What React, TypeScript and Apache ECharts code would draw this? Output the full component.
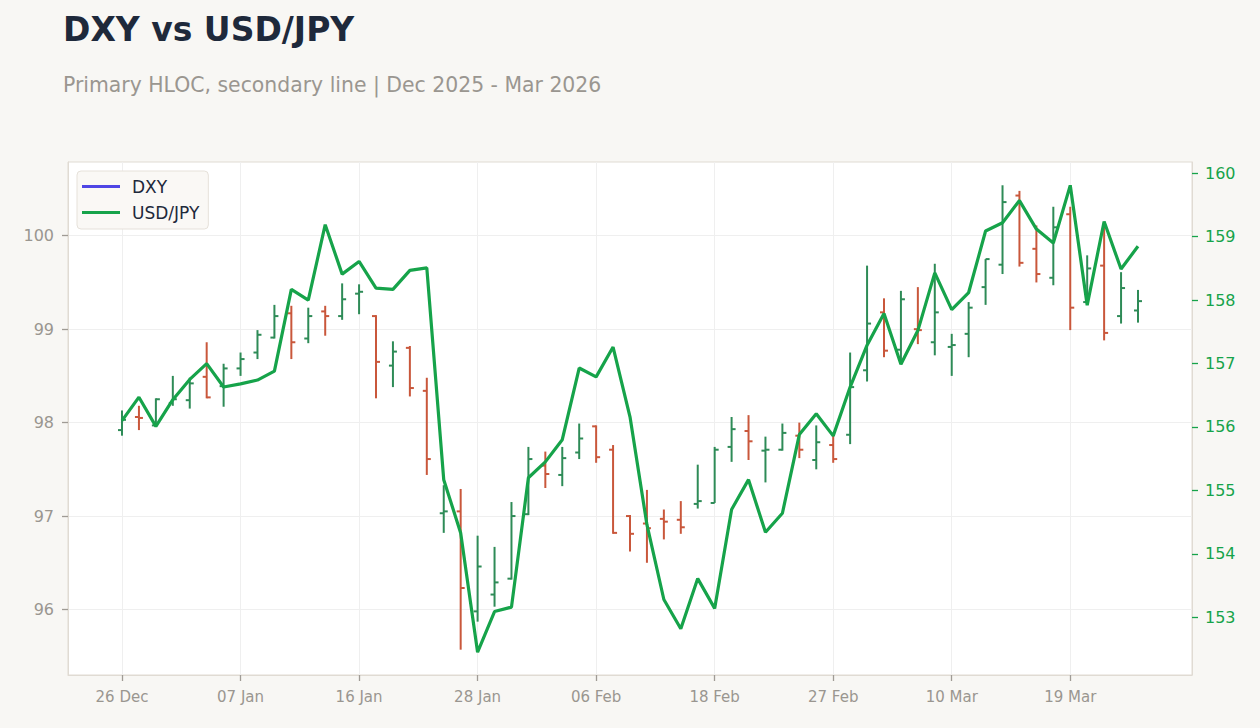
import React, { useEffect, useRef } from "react";
import * as echarts from "echarts";

const dates = [
  "2025-12-26", "2025-12-29", "2025-12-30", "2025-12-31", "2026-01-02",
  "2026-01-05", "2026-01-06", "2026-01-07", "2026-01-08", "2026-01-09",
  "2026-01-12", "2026-01-13", "2026-01-14", "2026-01-15", "2026-01-16",
  "2026-01-20", "2026-01-21", "2026-01-22", "2026-01-23", "2026-01-26",
  "2026-01-27", "2026-01-28", "2026-01-29", "2026-01-30", "2026-02-02",
  "2026-02-03", "2026-02-04", "2026-02-05", "2026-02-06", "2026-02-09",
  "2026-02-10", "2026-02-11", "2026-02-12", "2026-02-13", "2026-02-17",
  "2026-02-18", "2026-02-19", "2026-02-20", "2026-02-23", "2026-02-24",
  "2026-02-25", "2026-02-26", "2026-02-27", "2026-03-02", "2026-03-03",
  "2026-03-04", "2026-03-05", "2026-03-06", "2026-03-09", "2026-03-10",
  "2026-03-11", "2026-03-12", "2026-03-13", "2026-03-16", "2026-03-17",
  "2026-03-18", "2026-03-19", "2026-03-20", "2026-03-23", "2026-03-24",
  "2026-03-25",
];

const dxyOpen = [
  97.92, 98.06, 97.97, 98.21, 98.24, 98.49, 98.39, 98.58, 98.75, 98.91,
  99.17, 98.90, 99.19, 99.14, 99.38, 99.14, 98.61, 98.80, 98.34, 97.03,
  97.05, 95.98, 96.16, 96.33, 97.02, 97.54, 97.44, 97.68, 97.96, 97.71,
  97.00, 96.92, 96.97, 96.96, 97.13, 97.14, 97.74, 97.91, 97.70, 97.71,
  97.86, 97.60, 97.76, 97.87, 98.56, 99.18, 98.78, 99.00, 98.86, 98.81,
  98.95, 99.45, 99.69, 100.43, 99.86, 99.55, 100.23, 99.29, 99.68, 99.14,
  99.20,
];
const dxyHigh = [
  98.13, 98.18, 98.26, 98.50, 98.48, 98.86, 98.63, 98.75, 98.99, 99.26,
  99.25, 99.23, 99.25, 99.49, 99.48, 99.15, 98.87, 98.82, 98.48, 97.33,
  97.29, 96.79, 96.67, 97.15, 97.74, 97.69, 97.74, 97.99, 97.97, 97.76,
  97.01, 97.28, 97.07, 97.16, 97.55, 97.74, 98.06, 98.08, 97.85, 97.99,
  98.00, 97.97, 97.87, 98.75, 99.68, 99.33, 99.41, 99.45, 99.70, 98.95,
  99.29, 99.75, 100.54, 100.48, 100.11, 100.31, 100.31, 99.79, 100.12, 99.61,
  99.42,
];
const dxyLow = [
  97.86, 97.92, 97.96, 98.18, 98.15, 98.26, 98.17, 98.50, 98.68, 98.90,
  98.68, 98.85, 98.93, 99.10, 99.16, 98.26, 98.38, 98.28, 97.44, 96.82,
  95.57, 95.87, 96.03, 96.32, 97.01, 97.30, 97.32, 97.61, 97.57, 96.81,
  96.62, 96.50, 96.75, 96.81, 97.08, 97.14, 97.58, 97.60, 97.36, 97.70,
  97.62, 97.50, 97.57, 97.77, 98.44, 98.70, 98.63, 98.84, 98.72, 98.50,
  98.70, 99.26, 99.59, 99.67, 99.50, 99.47, 98.99, 99.26, 98.88, 99.06,
  99.07,
];
const dxyClose = [
  98.03, 98.05, 98.25, 98.25, 98.42, 98.27, 98.58, 98.68, 98.94, 99.14,
  98.86, 99.14, 99.14, 99.32, 99.40, 98.65, 98.76, 98.37, 97.61, 97.05,
  96.23, 96.46, 96.29, 97.00, 97.61, 97.45, 97.62, 97.83, 97.63, 96.82,
  96.81, 96.87, 96.94, 96.88, 97.16, 97.71, 97.93, 97.80, 97.71, 97.89,
  97.71, 97.79, 97.61, 98.38, 99.06, 98.77, 99.32, 98.99, 99.18, 98.83,
  99.23, 99.75, 100.36, 99.71, 99.59, 100.09, 99.23, 99.65, 98.96, 99.44,
  99.30,
];
const usdJpy = [
  156.10, 156.47, 156.01, 156.43, 156.75, 157.00, 156.63, 156.68, 156.74, 156.88,
  158.17, 158.00, 159.19, 158.41, 158.61, 158.19, 158.17, 158.47, 158.51, 155.17,
  154.33, 152.45, 153.09, 153.16, 155.20, 155.45, 155.80, 156.93, 156.79, 157.26,
  156.16, 154.46, 153.28, 152.82, 153.61, 153.14, 154.70, 155.17, 154.34, 154.64,
  155.88, 156.21, 155.86, 156.63, 157.29, 157.79, 156.99, 157.52, 158.43, 157.85,
  158.12, 159.09, 159.22, 159.57, 159.12, 158.90, 159.81, 157.92, 159.24, 158.49,
  158.85,
];

const xTickIdx = [0, 7, 14, 21, 28, 35, 42, 49, 56];
const dxyTicks = [96, 97, 98, 99, 100];
const jpyTicks = [153, 154, 155, 156, 157, 158, 159, 160];

const MONTHS = ["Jan", "Feb", "Mar", "Apr", "May", "Jun", "Jul", "Aug", "Sep", "Oct", "Nov", "Dec"];
const fmtDate = (iso: string) => {
  const [, m, d] = iso.split("-");
  return `${d} ${MONTHS[parseInt(m, 10) - 1]}`;
};

const UP = "#2e8b57";
const DOWN = "#c9573b";
const JPY_COLOR = "#16a34a";
const DXY_COLOR = "#4f46e5";
const FONT = "DejaVu Sans";
const GRAY = "#9a9690";
const TICK = "#9f9b95";

export default function App() {
  const ref = useRef<HTMLDivElement>(null);
  useEffect(() => {
    document.body.style.margin = "0";
    const chart = echarts.init(ref.current!, null, { renderer: "svg" });
    const ohlc = dates.map((_, i) => [i, dxyOpen[i], dxyHigh[i], dxyLow[i], dxyClose[i]]);
    const jpy = usdJpy.map((v, i) => [i, v]);
    chart.setOption({
      animation: false,
      backgroundColor: "#f8f7f4",
      textStyle: { fontFamily: FONT },
      title: [
        {
          text: "DXY vs USD/JPY",
          left: 58,
          top: 8,
          textStyle: { fontFamily: FONT, fontSize: 33, fontWeight: "bold", color: "#1e293b" },
        },
        {
          text: "Primary HLOC, secondary line | Dec 2025 - Mar 2026",
          left: 58,
          top: 70,
          textStyle: { fontFamily: FONT, fontSize: 20.4, fontWeight: "normal", color: GRAY },
        },
      ],
      legend: {
        left: 77,
        top: 171,
        orient: "vertical",
        icon: "rect",
        itemWidth: 38,
        itemHeight: 3,
        itemGap: 9,
        padding: [7, 9, 8, 5],
        backgroundColor: "#faf8f5",
        borderColor: "#e6e1da",
        borderWidth: 1,
        borderRadius: 4,
        textStyle: { fontFamily: FONT, fontSize: 17, color: "#1e293b", padding: [0, 0, 0, 7] },
        data: ["DXY", "USD/JPY"],
      },
      grid: {
        left: 68,
        right: 68,
        top: 162,
        bottom: 53,
        show: true,
        backgroundColor: "#ffffff",
        borderColor: "#e0dbd3",
        borderWidth: 1,
      },
      xAxis: {
        type: "value",
        min: -3.19,
        max: 63.19,
        axisLine: { show: true, onZero: false, lineStyle: { color: "#e0dbd3", width: 1 } },
        axisTick: {
          show: true,
          customValues: xTickIdx,
          length: 6,
          lineStyle: { color: TICK, width: 1.3 },
        },
        axisLabel: {
          customValues: xTickIdx,
          formatter: (v: number) => fmtDate(dates[Math.round(v)]),
          fontFamily: FONT,
          fontSize: 15,
          color: GRAY,
          margin: 14,
        },
        splitLine: { show: true, lineStyle: { color: "#efefef", width: 1 } },
      },
      yAxis: [
        {
          type: "value",
          min: 95.299,
          max: 100.789,
          position: "left",
          axisLine: { show: true, onZero: false, lineStyle: { color: "#e0dbd3", width: 1 } },
          axisTick: { show: true, customValues: dxyTicks, length: 6, lineStyle: { color: TICK, width: 1.3 } },
          axisLabel: { customValues: dxyTicks, fontFamily: FONT, fontSize: 16, color: GRAY, margin: 14 },
          splitLine: { show: true, lineStyle: { color: "#efefef", width: 1 } },
        },
        {
          type: "value",
          min: 152.09,
          max: 160.178,
          position: "right",
          axisLine: { show: true, onZero: false, lineStyle: { color: "#e0dbd3", width: 1 } },
          axisTick: { show: true, customValues: jpyTicks, length: 6, lineStyle: { color: JPY_COLOR, width: 1.3 } },
          axisLabel: { customValues: jpyTicks, fontFamily: FONT, fontSize: 16, color: JPY_COLOR, margin: 13 },
          splitLine: { show: false },
        },
      ],
      series: [
        {
          name: "DXY",
          type: "custom",
          xAxisIndex: 0,
          yAxisIndex: 0,
          itemStyle: { color: DXY_COLOR },
          encode: { x: 0, y: [1, 2, 3, 4] },
          data: ohlc,
          z: 2,
          renderItem: (params: any, api: any) => {
            const x = api.value(0);
            const o = api.value(1);
            const h = api.value(2);
            const l = api.value(3);
            const c = api.value(4);
            const pH = api.coord([x, h]);
            const pL = api.coord([x, l]);
            const pO = api.coord([x, o]);
            const pC = api.coord([x, c]);
            const color = c >= o ? UP : DOWN;
            const w = 4;
            const st = { stroke: color, lineWidth: 2 };
            return {
              type: "group",
              children: [
                { type: "line", shape: { x1: pH[0], y1: pH[1], x2: pL[0], y2: pL[1] }, style: st },
                { type: "line", shape: { x1: pO[0] - w, y1: pO[1], x2: pO[0], y2: pO[1] }, style: st },
                { type: "line", shape: { x1: pC[0], y1: pC[1], x2: pC[0] + w, y2: pC[1] }, style: st },
              ],
            };
          },
        },
        {
          name: "USD/JPY",
          type: "line",
          xAxisIndex: 0,
          yAxisIndex: 1,
          data: jpy,
          symbol: "none",
          z: 5,
          itemStyle: { color: JPY_COLOR },
          lineStyle: { color: JPY_COLOR, width: 3.2 },
        },
      ],
    });
    return () => chart.dispose();
  }, []);
  return (
    <div
      ref={ref}
      style={{ position: "absolute", left: 0, top: 0, width: 1260, height: 728 }}
    />
  );
}
